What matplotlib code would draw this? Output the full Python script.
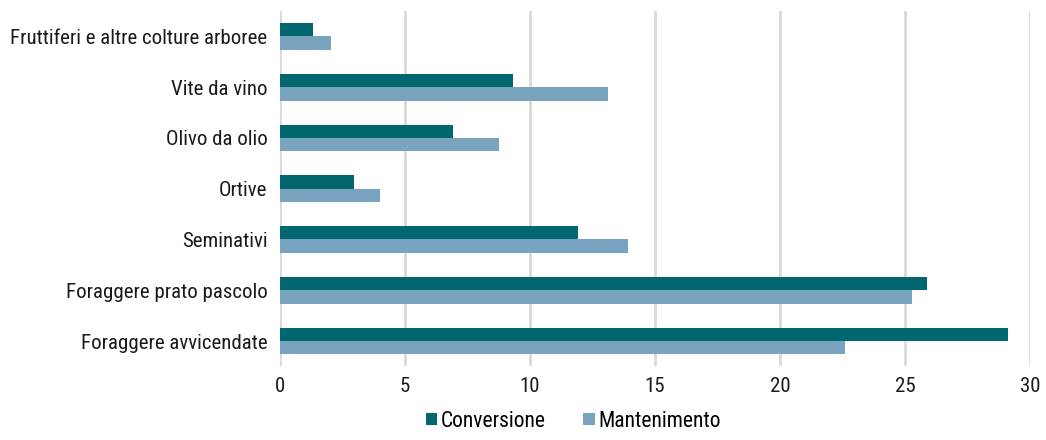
import matplotlib
matplotlib.use("Agg")
import matplotlib.pyplot as plt
import numpy as np
from matplotlib import font_manager

# pick a narrow font if there is one
names = {f.name for f in font_manager.fontManager.ttflist}
narrow = [n for n in ["Liberation Sans Narrow", "DejaVu Sans Condensed", "Roboto Condensed"] if n in names]
plt.rcParams['font.family'] = narrow + ['DejaVu Sans']

categorie = ["Fruttiferi e altre colture arboree", "Vite da vino", "Olivo da olio", "Ortive",
             "Seminativi", "Foraggere prato pascolo", "Foraggere avvicendate"]
conversione = [1.31, 9.31, 6.9, 2.96, 11.91, 25.88, 29.11]
mantenimento = [2.04, 13.1, 8.76, 3.99, 13.9, 25.29, 22.6]

col_conv = "#00666F"
col_mant = "#78A4C0"

fig = plt.figure(figsize=(10.46, 4.4), dpi=100)
ax = fig.add_axes([0.2677, 0.1673, 0.7170, 0.8075])

y = np.arange(len(categorie))
h = 0.262
ax.barh(y - h / 2, conversione, height=h, color=col_conv, label="Conversione", zorder=3)
ax.barh(y + h / 2, mantenimento, height=h, color=col_mant, label="Mantenimento", zorder=3)

ax.set_ylim(len(categorie) - 0.5, -0.5)
ax.set_xlim(0, 30)
ax.set_xticks(range(0, 31, 5))
ax.set_yticks(y)
ax.set_yticklabels(categorie)
ax.grid(axis="x", color="#d9d9d9", linewidth=2, zorder=0)
for s in ax.spines.values():
    s.set_visible(False)
ax.tick_params(length=0, labelsize=15, colors="#1a1a1a")
ax.tick_params(axis="x", pad=8)
ax.tick_params(axis="y", pad=9)

fig.legend(loc="lower center", bbox_to_anchor=(0.548, -0.025), ncol=2, frameon=False,
           fontsize=15.5, handlelength=0.55, handleheight=0.55, handletextpad=0.15,
           columnspacing=1.75)

fig.savefig("out.png", dpi=100)
